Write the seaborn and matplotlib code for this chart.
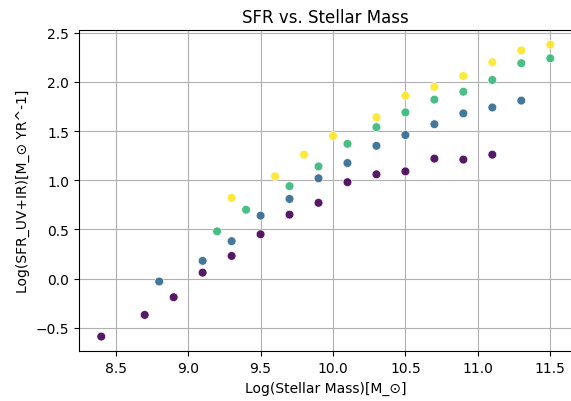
import matplotlib
matplotlib.use("Agg")
import matplotlib.pyplot as plt
import pandas as pd
import seaborn as sns

# Data (four groups)
mass_a = [8.4, 8.7, 8.9, 9.1, 9.3, 9.5, 9.7, 9.9, 10.1, 10.3, 10.5, 10.7, 10.9, 11.1]
sfr_a = [-0.59, -0.37, -0.19, 0.06, 0.23, 0.45, 0.65, 0.77, 0.98, 1.06, 1.09, 1.22, 1.21, 1.26]

mass_b = [8.8, 9.1, 9.3, 9.5, 9.7, 9.9, 10.1, 10.3, 10.5, 10.7, 10.9, 11.1, 11.3]
sfr_b = [-0.03, 0.18, 0.38, 0.64, 0.81, 1.02, 1.175, 1.35, 1.46, 1.57, 1.68, 1.74, 1.81]

mass_c = [9.2, 9.4, 9.7, 9.9, 10.1, 10.3, 10.5, 10.7, 10.9, 11.1, 11.3, 11.5]
sfr_c = [0.48, 0.70, 0.94, 1.14, 1.37, 1.54, 1.69, 1.82, 1.90, 2.02, 2.19, 2.24]

mass_d = [9.3, 9.6, 9.8, 10.0, 10.3, 10.5, 10.7, 10.9, 11.1, 11.3, 11.5]
sfr_d = [0.82, 1.04, 1.26, 1.45, 1.64, 1.86, 1.95, 2.06, 2.20, 2.32, 2.38]

groups = [(0, mass_a, sfr_a), (1, mass_b, sfr_b), (2, mass_c, sfr_c), (3, mass_d, sfr_d)]
df = pd.concat(
    [pd.DataFrame({"mass": m, "sfr": s, "group": g}) for g, m, s in groups],
    ignore_index=True,
)

fig = plt.figure(figsize=(5.71, 4.02), dpi=100)
# right edge of the axes sits just past the image border, as in the reference
ax = fig.add_axes([0.138, 0.124, 0.865, 0.799])

sns.scatterplot(
    data=df,
    x="mass",
    y="sfr",
    hue="group",
    palette="viridis",
    legend=False,
    s=40,
    alpha=0.9,
    ax=ax,
)

ax.grid(True, color="#b0b0b0", linewidth=0.8)
ax.set_axisbelow(True)
ax.set_title("SFR vs. Stellar Mass")
ax.set_xlabel("Log(Stellar Mass)[M_\u2299]")
ax.set_ylabel("Log(SFR_UV+IR)[M_\u2299 YR^-1]")

fig.savefig("out.png", dpi=100)
